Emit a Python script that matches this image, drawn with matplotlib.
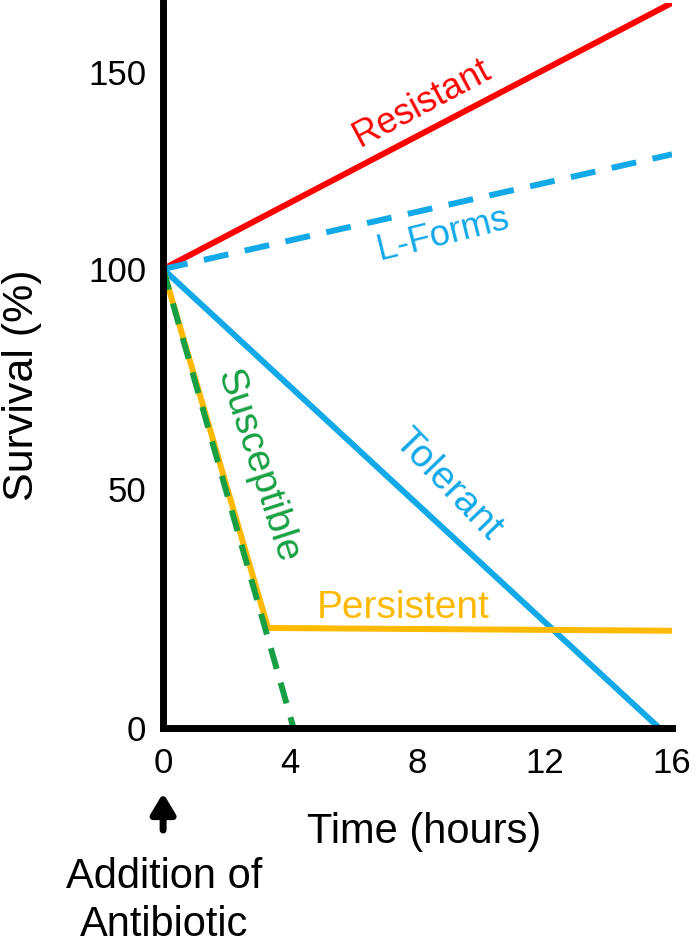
import matplotlib.pyplot as plt

plt.rcParams['font.family'] = ['Liberation Sans', 'DejaVu Sans']

# schematic survival curves: (time in hours, survival %)
resistant_t = [0, 16]
resistant_y = [100, 158]
lforms_t = [0, 16]
lforms_y = [100, 125]
tolerant_t = [0, 15.6]
tolerant_y = [100, 0]
persistent_t = [0, 3.3, 16]
persistent_y = [100, 21.8, 21.2]
susceptible_t = [0, 4.1]
susceptible_y = [100, 0]

x_ticks = [0, 4, 8, 12, 16]
y_ticks = [0, 52, 100, 143]
y_labels = ['0', '50', '100', '150']

red = '#FF0000'
blue = '#12A9E9'
orange = '#FFB900'
green = '#17A043'

fig = plt.figure(figsize=(7, 9.46), dpi=100)
ax = fig.add_axes([0.233, 0.2304, 0.727, 0.7666])

lw = 4.3
ax.plot(resistant_t, resistant_y, color=red, lw=lw, solid_capstyle='butt')
ax.plot(lforms_t, lforms_y, color=blue, lw=lw, dashes=(4.2, 2.8))
ax.plot(tolerant_t, tolerant_y, color=blue, lw=lw, solid_capstyle='butt')
ax.plot(persistent_t, persistent_y, color=orange, lw=lw, solid_capstyle='butt')
ax.plot(susceptible_t, susceptible_y, color=green, lw=lw, dashes=(3.6, 2.4))

ax.set_xlim(0, 16)
ax.set_ylim(0, 158)
for s in ['top', 'right']:
    ax.spines[s].set_visible(False)
for s in ['left', 'bottom']:
    ax.spines[s].set_linewidth(5)
    ax.spines[s].set_capstyle('projecting')
ax.set_xticks(x_ticks)
ax.set_yticks(y_ticks)
ax.set_yticklabels(y_labels)
ax.tick_params(length=0, labelsize=25)
ax.tick_params(axis='x', pad=14)
ax.tick_params(axis='y', pad=12)
ax.set_xlabel('Time (hours)', fontsize=30, va='center')
ax.xaxis.set_label_coords(0.513, -0.143)
ax.set_ylabel('Survival (%)', fontsize=31, va='center')
ax.yaxis.set_label_coords(-0.277, 0.472)

ax.text(8.15, 136, 'Resistant', color=red, fontsize=26, rotation=28,
        ha='center', va='center')
ax.text(8.8, 107.5, 'L-Forms', color=blue, fontsize=26, rotation=14,
        ha='center', va='center')
ax.text(8.95, 53, 'Tolerant', color=blue, fontsize=28, rotation=-46,
        ha='center', va='center')
ax.text(2.95, 57, 'Susceptible', color=green, fontsize=28, rotation=-72,
        ha='center', va='center')
ax.text(7.55, 26.2, 'Persistent', color=orange, fontsize=28,
        ha='center', va='center')

ax.annotate('', xy=(0, -0.0897), xycoords=('data', 'axes fraction'),
            xytext=(0, -0.1407), textcoords=('data', 'axes fraction'),
            arrowprops=dict(arrowstyle='-|>,head_width=0.33,head_length=0.55',
                            color='black', lw=5, mutation_scale=22,
                            shrinkA=0, shrinkB=0),
            annotation_clip=False)
fig.text(0.234, 0.0725, 'Addition of', fontsize=30, ha='center', va='center')
fig.text(0.234, 0.0225, 'Antibiotic', fontsize=30, ha='center', va='center')

fig.savefig('out.png', dpi=100)
